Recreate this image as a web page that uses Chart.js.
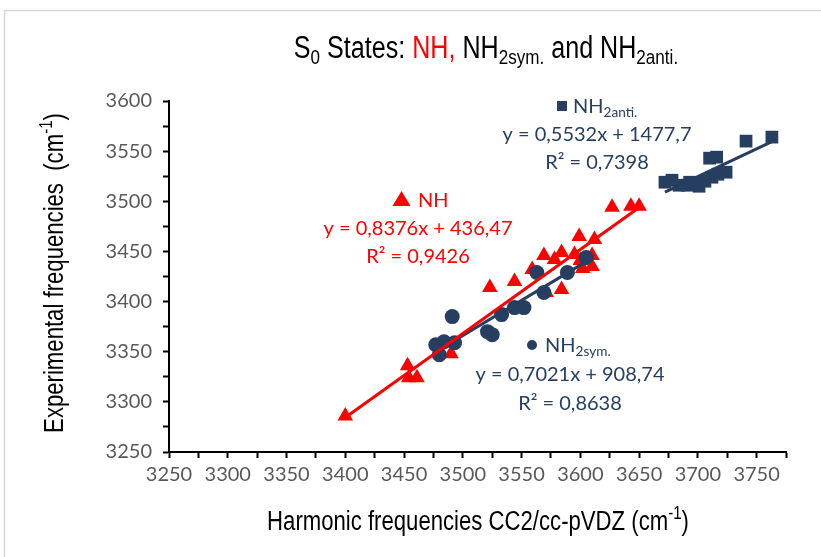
<!DOCTYPE html>
<html lang="en">
<head>
  <meta charset="UTF-8" />
  <title>S0 States scatter</title>
  <script src="https://cdn.jsdelivr.net/npm/chart.js"></script>
  <style>
    body { margin: 0; background: #fff; overflow: hidden; }
    #wrap { position: relative; width: 821px; height: 557px; }
  </style>
</head>
<body>
  <div id="wrap"><canvas id="chart" width="821" height="557"></canvas></div>

  <script>
    // NH (red triangles)
    const nhX = [3400, 3453, 3454, 3461, 3490, 3523, 3544, 3559, 3569, 3578, 3584, 3595, 3600, 3610, 3602, 3610, 3571, 3584, 3599, 3612, 3627, 3643, 3650];
    const nhY = [3286, 3336, 3324, 3324, 3348, 3414, 3420, 3432, 3446, 3442, 3449, 3447, 3441, 3446, 3433, 3435, 3409, 3412, 3465, 3462, 3494, 3495, 3495];
    // NH2 sym. (blue circles)
    const symX = [3477, 3480, 3484, 3493, 3491, 3521, 3525, 3533, 3544, 3552, 3563, 3569, 3589, 3605];
    const symY = [3357, 3347, 3360, 3359, 3385, 3370, 3367, 3387, 3394, 3394, 3429, 3409, 3429, 3444];
    // NH2 anti. (blue squares)
    const antiX = [3672, 3678, 3684, 3691, 3693, 3699, 3701, 3706, 3712, 3717, 3724, 3710, 3716, 3741, 3763];
    const antiY = [3519, 3521, 3516, 3516, 3519, 3518, 3515, 3520, 3524, 3527, 3529, 3543, 3544, 3560, 3564];

    // linear trendlines: [slope, intercept], drawn over the x range of each series
    const nhFit = [0.8376, 436.47];
    const symFit = [0.7021, 908.74];
    const antiFit = [0.5532, 1477.7];

    const xTicks = [3250, 3775, 25];
    const yTicks = [3250, 3600, 25];

    const RED = "#ff0000";
    const BLUE = "#263f61";
    const ARIAL = '"Liberation Sans", Arial, sans-serif';
    const BODY = 'Lato, "Open Sans", sans-serif';

    const pts = (xs, ys) => xs.map((x, i) => ({ x: x, y: ys[i] }));
    const fitLine = (xs, f) => {
      const lo = Math.min(...xs), hi = Math.max(...xs);
      return [{ x: lo, y: f[0] * lo + f[1] }, { x: hi, y: f[0] * hi + f[1] }];
    };

    // draws a run of text pieces, some as subscript / superscript; sx < 1 squeezes it (Arial Narrow look)
    function richText(ctx, segs, x, y, size, family, align, sx) {
      sx = sx || 1;
      const fontOf = g => ((g.sub || g.sup) ? size * 0.68 : size) + "px " + family;
      const w = segs.reduce((s, g) => {
        ctx.font = fontOf(g);
        return s + ctx.measureText(g.t).width * sx;
      }, 0);
      let cx = align === "center" ? x - w / 2 : x;
      ctx.textAlign = "left";
      ctx.textBaseline = "alphabetic";
      segs.forEach(g => {
        ctx.font = fontOf(g);
        ctx.fillStyle = g.color;
        const dy = g.sub ? size * 0.2 : g.sup ? -size * 0.42 : 0;
        ctx.save();
        ctx.translate(cx, y + dy);
        ctx.scale(sx, 1);
        ctx.fillText(g.t, 0, 0);
        ctx.restore();
        cx += ctx.measureText(g.t).width * sx;
      });
      return w;
    }

    const textPlugin = {
      id: "texts",
      beforeDraw(chart) {
        const ctx = chart.ctx;
        ctx.save();
        ctx.strokeStyle = "#d6d6d6";
        ctx.lineWidth = 1.5;
        ctx.strokeRect(4.5, 10.5, 900, 700);
        ctx.restore();
      },
      afterDraw(chart) {
        const ctx = chart.ctx;
        ctx.save();
        const K = "#000";
        richText(ctx, [
          { t: "S", color: K }, { t: "0", sub: true, color: K },
          { t: " States: ", color: K }, { t: "NH,", color: RED },
          { t: " NH", color: K }, { t: "2sym.", sub: true, color: K },
          { t: " and NH", color: K }, { t: "2anti.", sub: true, color: K }
        ], 486, 58, 31, ARIAL, "center", 0.81);

        richText(ctx, [
          { t: "Harmonic frequencies CC2/cc-pVDZ (cm", color: K },
          { t: "-1", sup: true, color: K }, { t: ")", color: K }
        ], 478, 530, 27, ARIAL, "center", 0.82);

        ctx.save();
        ctx.translate(63, 273);
        ctx.rotate(-Math.PI / 2);
        richText(ctx, [
          { t: "Experimental frequencies  (cm", color: K },
          { t: "-1", sup: true, color: K }, { t: ")", color: K }
        ], 0, 0, 27, ARIAL, "center", 0.82);
        ctx.restore();

        // series labels with trendline equations
        const fs = 20;
        // NH2 anti.
        ctx.fillStyle = BLUE;
        ctx.fillRect(557, 101, 10, 10);
        richText(ctx, [{ t: "NH", color: BLUE }, { t: "2anti.", sub: true, color: BLUE }], 573, 113, fs, BODY, "left");
        richText(ctx, [{ t: "y = 0,5532x + 1477,7", color: BLUE }], 597, 141, fs, BODY, "center");
        richText(ctx, [{ t: "R² = 0,7398", color: BLUE }], 597, 169, fs, BODY, "center");
        // NH
        ctx.fillStyle = RED;
        ctx.beginPath();
        ctx.moveTo(401.5, 191); ctx.lineTo(410.5, 206); ctx.lineTo(392.5, 206); ctx.closePath();
        ctx.fill();
        richText(ctx, [{ t: "NH", color: RED }], 418, 207, fs, BODY, "left");
        richText(ctx, [{ t: "y = 0,8376x + 436,47", color: RED }], 418, 235, fs, BODY, "center");
        richText(ctx, [{ t: "R² = 0,9426", color: RED }], 418, 263, fs, BODY, "center");
        // NH2 sym.
        ctx.fillStyle = BLUE;
        ctx.beginPath();
        ctx.arc(532, 345, 5, 0, Math.PI * 2);
        ctx.fill();
        richText(ctx, [{ t: "NH", color: BLUE }, { t: "2sym.", sub: true, color: BLUE }], 545, 352, fs, BODY, "left");
        richText(ctx, [{ t: "y = 0,7021x + 908,74", color: BLUE }], 570, 381, fs, BODY, "center");
        richText(ctx, [{ t: "R² = 0,8638", color: BLUE }], 570, 410, fs, BODY, "center");
        ctx.restore();
      }
    };

    const axisGrid = {
      drawOnChartArea: false,
      drawTicks: true,
      tickLength: 6,
      tickWidth: 2,
      tickColor: "#000"
    };

    new Chart(document.getElementById("chart"), {
      type: "scatter",
      data: {
        datasets: [
          { label: "NH fit", type: "line", data: fitLine(nhX, nhFit), borderColor: RED, borderWidth: 3, pointRadius: 0, fill: false, order: 0 },
          { label: "NH2sym fit", type: "line", data: fitLine(symX, symFit), borderColor: BLUE, borderWidth: 3, pointRadius: 0, fill: false, order: 1 },
          { label: "NH2anti fit", type: "line", data: fitLine(antiX, antiFit), borderColor: BLUE, borderWidth: 3, pointRadius: 0, fill: false, order: 1 },
          { label: "NH2anti.", data: pts(antiX, antiY), pointStyle: "rect", pointRadius: 9, backgroundColor: BLUE, borderColor: BLUE, borderWidth: 0, order: 2 },
          { label: "NH", data: pts(nhX, nhY), pointStyle: "triangle", pointRadius: 9, backgroundColor: RED, borderColor: RED, borderWidth: 0, order: 3 },
          { label: "NH2sym.", data: pts(symX, symY), pointStyle: "circle", pointRadius: 7.5, backgroundColor: BLUE, borderColor: BLUE, borderWidth: 0, order: 2 }
        ]
      },
      options: {
        responsive: false,
        animation: false,
        layout: { padding: { left: 0, right: 35, top: 101, bottom: 65 } },
        plugins: { legend: { display: false }, tooltip: { enabled: false }, title: { display: false } },
        scales: {
          x: {
            type: "linear",
            min: xTicks[0], max: xTicks[1],
            afterFit: s => { s.height = 40; },
            border: { display: true, color: "#000", width: 2 },
            grid: axisGrid,
            ticks: {
              stepSize: xTicks[2], autoSkip: false, maxRotation: 0, padding: 5,
              color: "#595959", font: { family: BODY, size: 20 },
              callback: v => (v % 50 === 0 && v <= 3750 ? String(v) : "")
            }
          },
          y: {
            type: "linear",
            min: yTicks[0], max: yTicks[1],
            afterFit: s => { s.width = 169; },
            border: { display: true, color: "#000", width: 2 },
            grid: axisGrid,
            ticks: {
              stepSize: yTicks[2], autoSkip: false, padding: 11,
              color: "#595959", font: { family: BODY, size: 20 },
              callback: v => (v % 50 === 0 ? String(v) : "")
            }
          }
        }
      },
      plugins: [textPlugin]
    });
  </script>
</body>
</html>
